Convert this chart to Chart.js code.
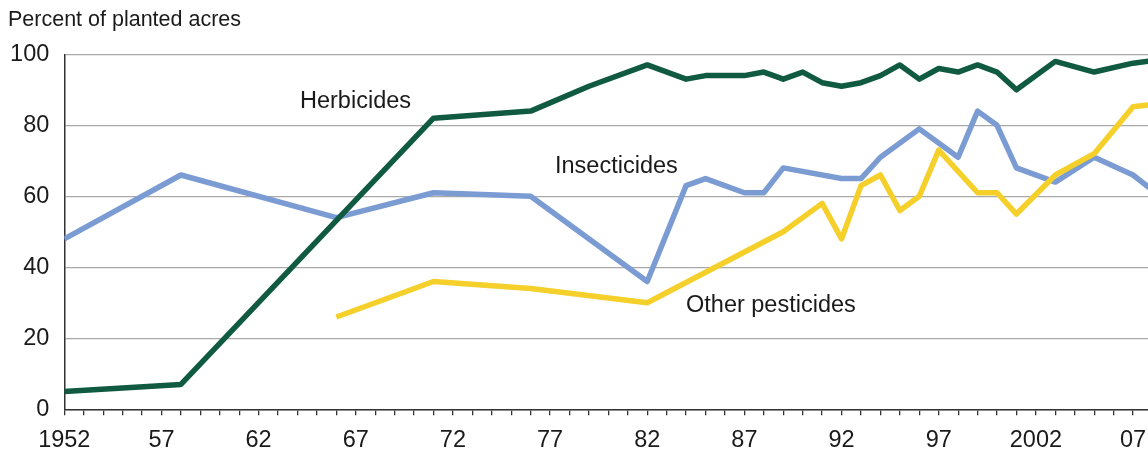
<!DOCTYPE html>
<html>
<head>
<meta charset="utf-8">
<script src="https://cdn.jsdelivr.net/npm/chart.js@4.4.1/dist/chart.umd.min.js"></script>
<style>
  html, body { margin: 0; padding: 0; background: #ffffff; }
  #wrap { width: 1148px; height: 450px; position: relative; }
</style>
</head>
<body>
<div id="wrap"><canvas id="c" width="1148" height="450"></canvas></div>
<script>
// ---- Data ----
const yAxisTitle = "Percent of planted acres";
const seriesNames = ["Herbicides", "Insecticides", "Other pesticides"];

const herbicideYears  = [1952, 1958, 1971, 1976, 1979, 1982, 1984, 1985, 1986, 1987, 1988, 1989, 1990, 1991, 1992, 1993, 1994, 1995, 1996, 1997, 1998, 1999, 2000, 2001, 2003, 2005, 2007, 2008];
const herbicideValues = [5, 7, 82, 84, 91, 97, 93, 94, 94, 94, 95, 93, 95, 92, 91, 92, 94, 97, 93, 96, 95, 97, 95, 90, 98, 95, 97.5, 98.2];

const insecticideYears  = [1952, 1958, 1966, 1971, 1976, 1982, 1984, 1985, 1987, 1988, 1989, 1992, 1993, 1994, 1996, 1998, 1999, 2000, 2001, 2003, 2005, 2007, 2008];
const insecticideValues = [48, 66, 54, 61, 60, 36, 63, 65, 61, 61, 68, 65, 65, 71, 79, 71, 84, 80, 68, 64, 71, 66, 61.7];

const otherYears  = [1966, 1971, 1976, 1982, 1989, 1991, 1992, 1993, 1994, 1995, 1996, 1997, 1999, 2000, 2001, 2003, 2005, 2007, 2008];
const otherValues = [26, 36, 34, 30, 50, 58, 48, 63, 66, 56, 60, 73, 61, 61, 55, 66, 72, 85.2, 85.9];

const yTicks = [0, 20, 40, 60, 80, 100];
const labeledYears = [1952, 1957, 1962, 1967, 1972, 1977, 1982, 1987, 1992, 1997, 2002, 2007];
const yearLabels   = ["1952", "57", "62", "67", "72", "77", "82", "87", "92", "97", "2002", "07"];

// ---- Build chart ----
const toPts = (xs, ys) => xs.map((x, i) => ({ x: x, y: ys[i] }));
const FONT = "'Liberation Sans', Arial, Helvetica, sans-serif";

const textPlugin = {
  id: 'textPlugin',
  afterDraw(chart) {
    const ctx = chart.ctx;
    ctx.save();
    ctx.fillStyle = '#1a1a1a';
    ctx.textBaseline = 'alphabetic';
    ctx.textAlign = 'left';
    ctx.font = "21.5px " + FONT;
    ctx.fillText(yAxisTitle, 8, 26);
    ctx.font = "23.5px " + FONT;
    ctx.textBaseline = 'middle';
    ctx.fillText(seriesNames[0], 300, 102);
    ctx.fillText(seriesNames[1], 555, 167);
    ctx.fillText(seriesNames[2], 686, 306);
    ctx.restore();
  }
};

new Chart(document.getElementById('c'), {
  type: 'line',
  data: {
    datasets: [
      { label: seriesNames[0], data: toPts(herbicideYears, herbicideValues), borderColor: '#0f5a40', borderWidth: 5.5, order: 0 },
      { label: seriesNames[2], data: toPts(otherYears, otherValues), borderColor: '#f5cf2a', borderWidth: 5.5, order: 1 },
      { label: seriesNames[1], data: toPts(insecticideYears, insecticideValues), borderColor: '#7b9bd3', borderWidth: 5.5, order: 2 }
    ]
  },
  options: {
    responsive: false,
    animation: false,
    devicePixelRatio: 1,
    elements: {
      point: { radius: 0, hoverRadius: 0 },
      line: { tension: 0, borderJoinStyle: 'round', borderCapStyle: 'butt', fill: false }
    },
    layout: { padding: { top: 54.3, left: 0, right: 0, bottom: 0 } },
    plugins: { legend: { display: false }, tooltip: { enabled: false }, title: { display: false } },
    scales: {
      x: {
        type: 'linear',
        min: 1952,
        max: 2007.77,
        afterFit(scale) { scale.height = 450 - 409.3; scale.paddingLeft = 0; scale.paddingRight = 0; },
        afterBuildTicks(scale) {
          const t = [];
          for (let y = 1952; y <= 2007; y++) t.push({ value: y });
          scale.ticks = t;
        },
        border: { display: true, color: '#333333', width: 1.5 },
        grid: { drawOnChartArea: false, drawTicks: true, tickLength: 6, color: '#333333', lineWidth: 1.3 },
        ticks: {
          autoSkip: false, maxRotation: 0, minRotation: 0, padding: 11,
          color: '#1a1a1a',
          font: { family: FONT, size: 23.5 },
          callback: (v) => { const i = labeledYears.indexOf(v); return i >= 0 ? yearLabels[i] : ''; }
        }
      },
      y: {
        min: 0,
        max: 100,
        afterFit(scale) { scale.width = 64.3; scale.paddingTop = 0; scale.paddingBottom = 0; },
        afterBuildTicks(scale) { scale.ticks = yTicks.map(v => ({ value: v })); },
        border: { display: true, color: '#333333', width: 1.5 },
        grid: { drawTicks: false, color: '#a9a9a9', lineWidth: 1.3 },
        ticks: {
          padding: 15, color: '#1a1a1a',
          font: { family: FONT, size: 23.5 }
        }
      }
    }
  },
  plugins: [textPlugin]
});
</script>
</body>
</html>
